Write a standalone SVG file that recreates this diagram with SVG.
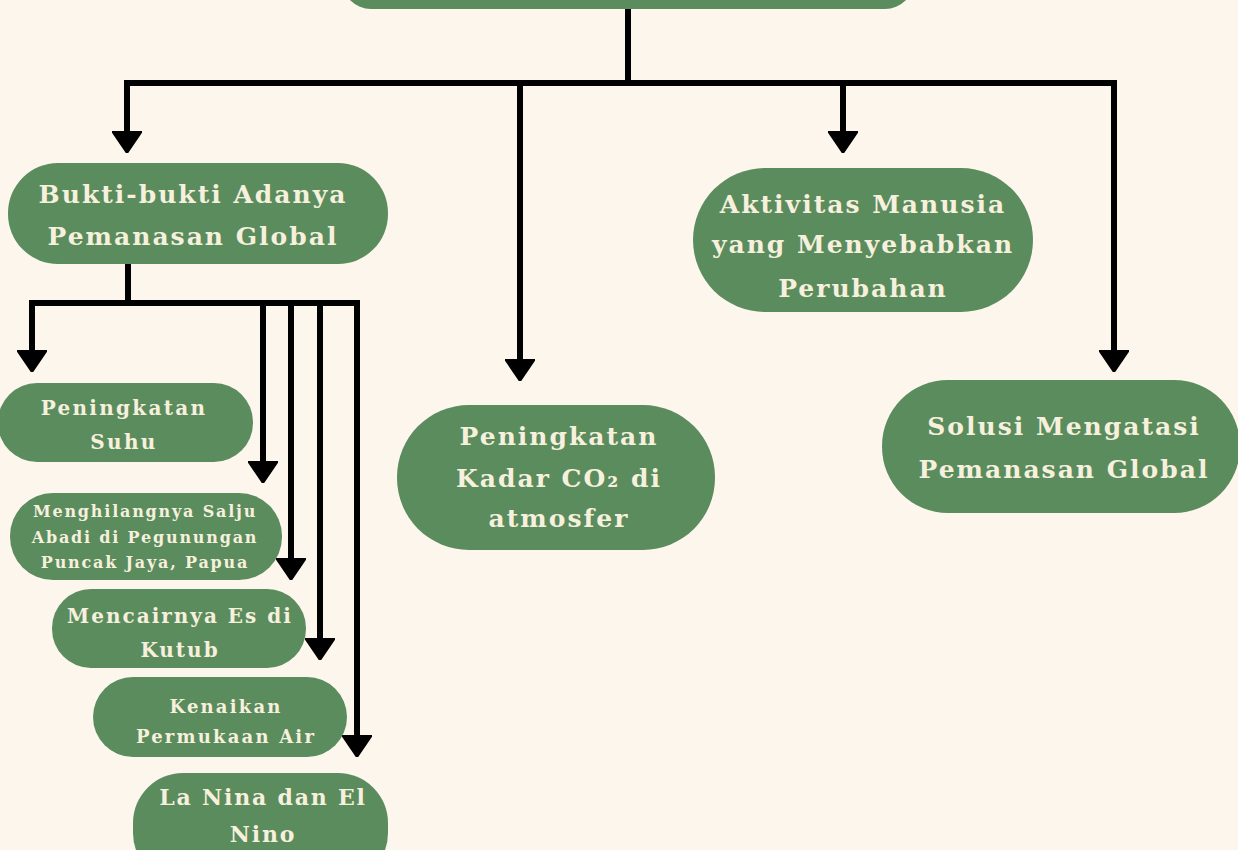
<svg xmlns="http://www.w3.org/2000/svg" width="1238" height="850" viewBox="0 0 1238 850">
<style>
.bg{fill:#FDF6EC}
.node{fill:#5B8C5E}
.t{fill:#F6F0DD;font-family:"DejaVu Serif","Liberation Serif",serif;font-weight:bold;text-anchor:middle}
.big{font-size:25px;letter-spacing:2px}
.c{fill:none;stroke:#000;stroke-width:6}
</style>
<defs>
<marker id="ah" viewBox="0 0 22 30" refX="0" refY="15" markerWidth="22" markerHeight="30" markerUnits="userSpaceOnUse" orient="auto">
<path d="M0,0 L22,15 L0,30 Z" fill="#000" stroke="#000" stroke-width="2" stroke-linejoin="round"/>
</marker>
</defs>
<rect class="bg" x="0" y="0" width="1238" height="850"/>
<g id="connectors">
<path class="c" d="M628,8 V83"/>
<path class="c" d="M124,83 H1117" stroke-width="7"/>
<path class="c" d="M127,83 V131" marker-end="url(#ah)"/>
<path class="c" d="M520,83 V359" marker-end="url(#ah)"/>
<path class="c" d="M843,83 V131" marker-end="url(#ah)"/>
<path class="c" d="M1114,83 V350" marker-end="url(#ah)"/>
<path class="c" d="M128,264 V303"/>
<path class="c" d="M29,303 H360" stroke-width="7"/>
<path class="c" d="M32,303 V350" marker-end="url(#ah)"/>
<path class="c" d="M263,303 V461" marker-end="url(#ah)"/>
<path class="c" d="M291,303 V558" marker-end="url(#ah)"/>
<path class="c" d="M320,303 V638" marker-end="url(#ah)"/>
<path class="c" d="M357,303 V735" marker-end="url(#ah)"/>
</g>
<g id="top"><rect class="node" x="342" y="-50" width="572" height="59" rx="29"/></g>
<g id="bukti"><rect class="node" x="8" y="163" width="380" height="101" rx="50"/>
<text class="t big"><tspan x="193" y="203">Bukti-bukti Adanya</tspan><tspan x="193" y="245">Pemanasan Global</tspan></text></g>
<g id="suhu"><rect class="node" x="-2" y="383" width="255" height="79" rx="39"/>
<text class="t" font-size="20" letter-spacing="2.3"><tspan x="124" y="415">Peningkatan</tspan><tspan x="124" y="449">Suhu</tspan></text></g>
<g id="salju"><rect class="node" x="10" y="493" width="272" height="87" rx="43"/>
<text class="t" font-size="16" letter-spacing="1.8"><tspan x="145" y="517">Menghilangnya Salju</tspan><tspan x="145" y="543">Abadi di Pegunungan</tspan><tspan x="145" y="568">Puncak Jaya, Papua</tspan></text></g>
<g id="es"><rect class="node" x="52" y="589" width="254" height="79" rx="39"/>
<text class="t" font-size="20" letter-spacing="2"><tspan x="180" y="623">Mencairnya Es di</tspan><tspan x="180" y="657">Kutub</tspan></text></g>
<g id="air"><rect class="node" x="93" y="677" width="254" height="80" rx="40"/>
<text class="t" font-size="18" letter-spacing="2.2"><tspan x="226" y="713">Kenaikan</tspan><tspan x="226" y="743">Permukaan Air</tspan></text></g>
<g id="nina"><rect class="node" x="133" y="773" width="255" height="110" rx="50"/>
<text class="t" font-size="22" letter-spacing="1.8"><tspan x="263" y="805">La Nina dan El</tspan><tspan x="263" y="842">Nino</tspan></text></g>
<g id="co2"><rect class="node" x="397" y="405" width="318" height="145" rx="72"/>
<text class="t big"><tspan x="559" y="445">Peningkatan</tspan><tspan x="559" y="487">Kadar CO₂ di</tspan><tspan x="559" y="527">atmosfer</tspan></text></g>
<g id="aktivitas"><rect class="node" x="693" y="168" width="340" height="144" rx="72"/>
<text class="t big"><tspan x="863" y="213">Aktivitas Manusia</tspan><tspan x="863" y="253">yang Menyebabkan</tspan><tspan x="863" y="297">Perubahan</tspan></text></g>
<g id="solusi"><rect class="node" x="882" y="380" width="358" height="133" rx="66"/>
<text class="t big"><tspan x="1064" y="435">Solusi Mengatasi</tspan><tspan x="1064" y="478">Pemanasan Global</tspan></text></g>
</svg>
